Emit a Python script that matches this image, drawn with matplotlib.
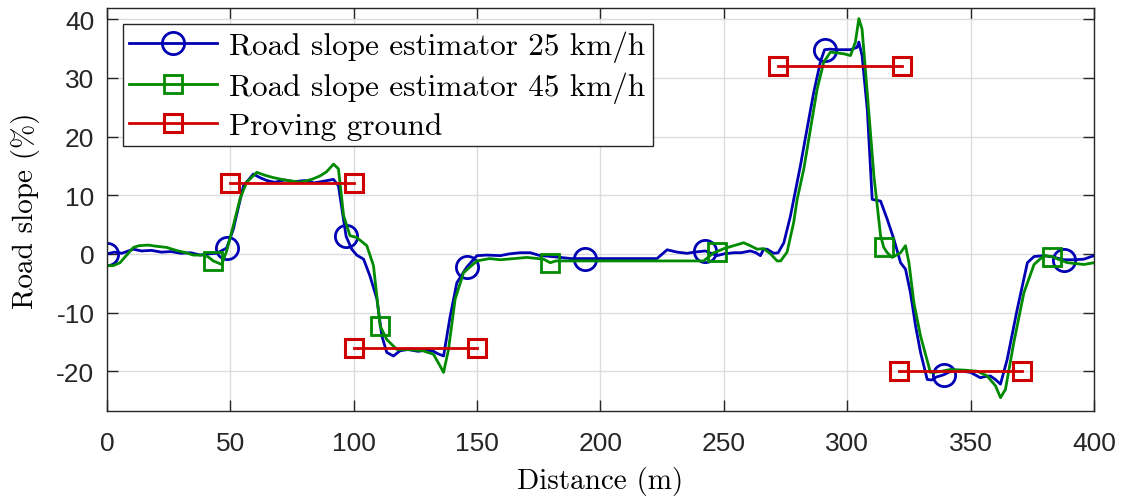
import numpy as np
import matplotlib
matplotlib.use("Agg")
import matplotlib.pyplot as plt

# distance (m) / slope (%)
dist_25 = [0, 3, 6, 10.7, 14, 18, 22, 26, 30, 34, 37.7, 41, 44.5, 48.5, 51.2, 55.3, 59.3, 62, 64.8,
           68, 72, 76, 80, 84, 88, 91.8, 93.8, 96.9, 99.2, 101.2, 104, 106.6, 109.4, 111.4, 113.4,
           116.1, 118.8, 122, 126, 130, 132.3, 134, 136.4, 139.1, 141.8, 145.9, 149.9, 154, 159.4,
           163, 167.5, 171.5, 175.6, 179, 183.7, 188, 193.8, 200, 210, 222.9, 227, 231, 235.1, 238,
           242.5, 247.2, 250, 254, 257, 260.7, 263, 264.8, 266.1, 267.5, 270.2, 272, 274.3, 277, 281,
           284, 286.4, 289.1, 290.8, 293, 295.9, 301.3, 304, 304.7, 306, 308.1, 310.1, 313.5, 316.2,
           318.9, 321.6, 323.6, 325.6, 327.7, 329.7, 332.4, 334.3, 336, 339.1, 341.5, 344.5, 347, 350,
           353.9, 356, 358, 360, 362.1, 364.8, 368.9, 373, 375.7, 379.7, 383, 387.8, 392, 395.9, 400]
slope_25 = [0, 0.3, 0.1, 0.8, 0.5, 0.6, 0.3, 0.4, 0.1, 0.2, -0.2, 0.0, 0.1, 1.0, 4.2, 11.6, 13.6, 13.0, 12.5,
            12.2, 12.6, 12.3, 12.5, 12.1, 12.4, 12.7, 11.6, 3.0, 0.8, -0.2, -0.9, -3.8, -7.7, -14.0, -16.8,
            -17.4, -16.5, -16.3, -16.6, -16.4, -16.6, -17.0, -17.4, -10.6, -4.9, -2.2, -0.3, -0.2, -0.3,
            0.0, 0.2, 0.2, -0.3, -0.4, -0.6, -0.8, -0.8, -0.8, -0.8, -0.8, 0.7, 0.3, 0.1, 0.3,
            0.5, -0.3, 0.0, 0.2, 0.2, 0.5, 0.2, -0.3, 0.8, 0.8, 0.1, 0.2, 1.9, 6.5, 15.0,
            22.0, 27.5, 32.7, 34.8, 34.9, 34.8, 34.8, 35.2, 36.1, 33.8, 24.7, 9.3, 9.0, 5.9,
            2.5, -1.5, -2.6, -6.6, -12.3, -16.8, -21.4, -21.5, -21.0, -20.6, -20.1, -20.0, -20.0, -20.2,
            -21.1, -20.9, -20.8, -21.4, -22.2, -18.0, -9.4, -1.5, -0.45, -0.3, -0.5, -1.0, -1.0, -0.9, -0.3]

dist_45 = [0, 2.5, 5.3, 8, 10.7, 13, 16.7, 20, 24.2, 28, 32, 35, 39, 41, 43.1, 46.5, 48.5, 51.2, 54, 56.6,
           60.7, 64, 67.4, 72, 78.3, 83, 86.4, 89, 91.8, 93.8, 95.9, 98.5, 101.2, 105.3, 108, 110.7,
           113.4, 117.5, 122, 128, 132.3, 135, 136.4, 138.4, 141.1, 144.5, 149.9, 155, 159.4, 165,
           170.2, 176.9, 179.6, 182, 185, 241.8, 245.9, 247.2, 250, 254, 258, 260.7, 263.5, 266.1, 268.9,
           271.6, 273, 275.6, 278.3, 279.7, 282.4, 287.8, 290.5, 293.2, 298.6, 301.3, 303.3, 304.7,
           306, 308.1, 310.8, 313.5, 314.8, 316.2, 318.2, 321.6, 323.6, 325, 327, 329.7, 333.7, 337,
           341.8, 347, 352.7, 356.7, 360.1, 362.1, 364.1, 367.5, 371.6, 375.7, 379.7, 383, 386, 389.2,
           395.9, 400]
slope_45 = [-2.0, -2.0, -1.5, -0.2, 1.1, 1.4, 1.5, 1.3, 1.1, 0.6, 0.2, -0.2, -0.2, -0.5, -1.2, -1.8, 0.5, 4.8, 9.5, 12.2,
            13.9, 13.4, 13.0, 12.6, 12.2, 12.7, 13.3, 14.0, 15.3, 14.5, 6.5, 3.1, 2.8, 1.4, -2.0, -12.3,
            -14.6, -16.3, -16.3, -16.5, -17.1, -19.1, -20.2, -16.3, -7.7, -3.2, -1.2, -0.8, -1.0, -0.8,
            -0.6, -0.9, -1.5, -1.2, -1.2, -1.2, 0.2, 0.4, 0.9, 1.4, 1.9, 1.4, 0.8, 0.9, 0.0,
            -1.2, -1.2, 0.3, 5.4, 9.3, 14.5, 28.1, 32.7, 34.4, 34.1, 33.8, 36.1, 40.1,
            38.3, 27.5, 13.3, 3.1, 1.1, 0.2, -0.6, 0.2, 1.4, -1.5, -8.3, -14.0, -20.2, -20.1,
            -19.7, -19.8, -20.0, -20.8, -22.5, -24.5, -23.1, -15.1, -6.6, -1.8, -0.3, -0.45, -1.0, -1.5,
            -1.8, -1.5]

# proving ground sections (start, end, slope)
ground_start = [50, 100, 272, 321]
ground_end = [100, 150, 322, 371]
ground_slope = [12, -16, 32, -20]

# where the markers sit along each estimator trace
marks_25 = [0, 48.5, 96.9, 145.9, 193.8, 242.5, 290.8, 339.1, 387.8]
marks_45 = [43.1, 110.7, 179.6, 247.2, 314.8, 383]

BLUE = "#0000b4"
GREEN = "#008a00"
RED = "#d00000"

serif = ["cmr10", "DejaVu Serif"]
plt.rcParams["axes.unicode_minus"] = False

fig = plt.figure(figsize=(11.26, 5.02), dpi=100)
ax = fig.add_axes([0.095, 0.179, 0.8766, 0.803])

d25 = np.array(dist_25)
d45 = np.array(dist_45)
idx25 = [int(np.argmin(np.abs(d25 - m))) for m in marks_25]
idx45 = [int(np.argmin(np.abs(d45 - m))) for m in marks_45]

ax.plot(d25, slope_25, color=BLUE, lw=2.0, marker="o", ms=16, mfc="none", mew=2.0,
        markevery=idx25, label="Road slope estimator 25 km/h")
ax.plot(d45, slope_45, color=GREEN, lw=2.0, marker="s", ms=13, mfc="none", mew=2.0,
        markevery=idx45, label="Road slope estimator 45 km/h")

gx, gy = [], []
for s, e, v in zip(ground_start, ground_end, ground_slope):
    gx += [s, e, np.nan]
    gy += [v, v, np.nan]
ax.plot(gx, gy, color=RED, lw=2.0, marker="s", ms=13, mfc="none", mew=2.2,
        label="Proving ground")

ax.set_xlim(0, 400)
ax.set_ylim(-26.8, 41.9)
ax.set_xticks(np.arange(0, 401, 50))
ax.set_yticks(np.arange(-20, 41, 10))
ax.grid(True, color="#dcdcdc", lw=1.0)
ax.set_axisbelow(True)
ax.tick_params(direction="in", length=8, width=1.0, colors="#262626",
               top=True, right=True, labelsize=19)
ax.tick_params(axis="x", pad=14)
ax.tick_params(axis="y", pad=9)
for lab in ax.get_xticklabels() + ax.get_yticklabels():
    lab.set_family("Liberation Sans")
for sp in ax.spines.values():
    sp.set_color("#262626")
    sp.set_linewidth(1.0)

ax.set_xlabel("Distance (m)", family=serif, fontsize=21, labelpad=8)
ax.set_ylabel("Road slope (%)", family=serif, fontsize=21, labelpad=12)

leg = ax.legend(loc="upper left", prop={"family": serif, "size": 22.5},
                fancybox=False, framealpha=1, edgecolor="#262626",
                borderaxespad=0.5, handlelength=2.8, labelspacing=0.29,
                borderpad=0.22, handletextpad=0.4)
leg.get_frame().set_linewidth(1.0)

fig.savefig("out.png", dpi=100)
